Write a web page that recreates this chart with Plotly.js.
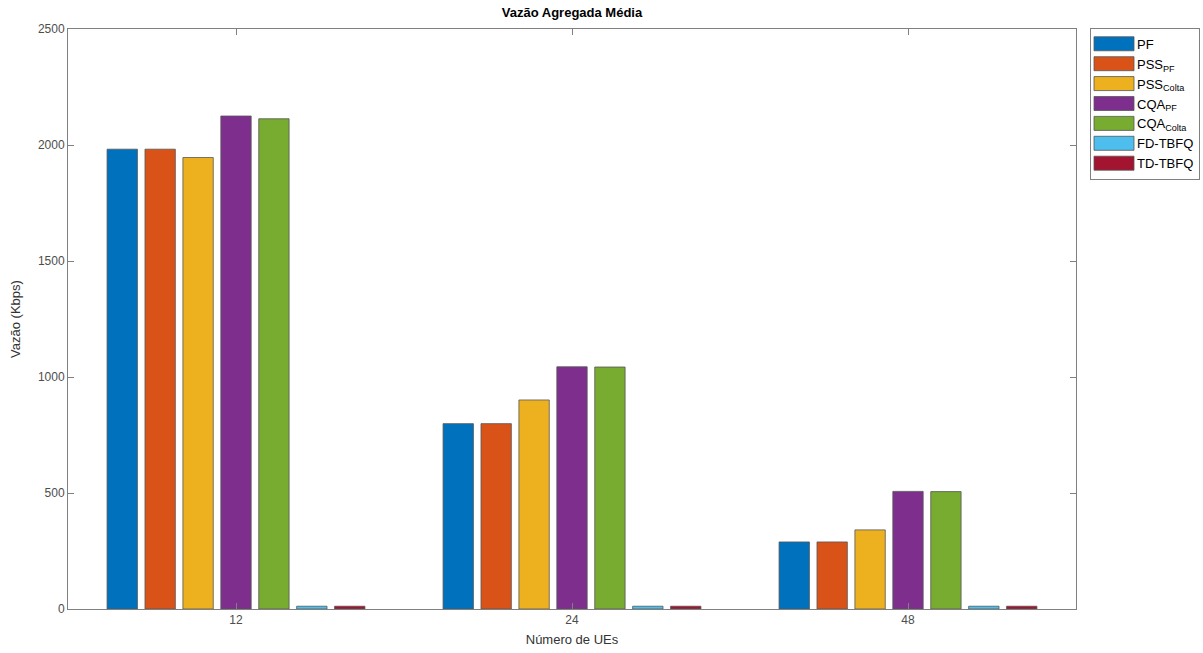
<!DOCTYPE html>
<html>
<head>
<meta charset="utf-8">
<script src="https://cdn.plot.ly/plotly-3.0.1.min.js"></script>
<style>html,body{margin:0;padding:0;background:#fff;}#chart{width:1203px;height:653px;}</style>
</head>
<body>
<div id="chart"></div>
<script>
const categories = ["12", "24", "48"];
const seriesNames = ["PF", "PSS<sub>PF</sub>", "PSS<sub>Colta</sub>", "CQA<sub>PF</sub>", "CQA<sub>Colta</sub>", "FD-TBFQ", "TD-TBFQ"];
const PF = [1982, 799, 289];
const PSS_PF = [1982, 799, 289];
const PSS_Colta = [1946, 901, 341];
const CQA_PF = [2125, 1044, 507];
const CQA_Colta = [2113, 1043, 506];
const FD_TBFQ = [12, 12, 12];
const TD_TBFQ = [12, 12, 12];
const seriesValues = [PF, PSS_PF, PSS_Colta, CQA_PF, CQA_Colta, FD_TBFQ, TD_TBFQ];
const colors = ["#0072BD", "#D95319", "#EDB120", "#7E2F8E", "#77AC30", "#4DBEEE", "#A2142F"];

const traces = seriesNames.map((n, i) => ({
  type: "bar",
  name: n,
  x: categories,
  y: seriesValues[i],
  marker: {color: colors[i], line: {color: "#555555", width: 0.8}},
  hoverinfo: "x+y+name"
}));

const font = "Liberation Sans, Arial, Helvetica, sans-serif";
const layout = {
  width: 1203, height: 653,
  margin: {l: 68, r: 127, t: 29, b: 44, pad: 0, autoexpand: false},
  paper_bgcolor: "#ffffff", plot_bgcolor: "#ffffff",
  barmode: "group",
  bargap: 0.21,
  bargroupgap: 0.2,
  font: {family: font, color: "#262626"},
  title: {text: "<b>Vazão Agregada Média</b>", font: {family: font, size: 13, color: "#000"}, x: 0.5, xref: "paper", xanchor: "center", y: 0.988, yref: "container", yanchor: "top"},
  xaxis: {
    type: "category",
    range: [-0.5, 2.5],
    showline: true, linecolor: "#808080", linewidth: 1, mirror: "ticks",
    ticks: "inside", ticklen: 6, tickcolor: "#808080",
    showgrid: false, zeroline: false,
    tickfont: {family: font, size: 12, color: "#4d4d4d"},
    title: {text: "Número de UEs", font: {family: font, size: 13, color: "#333"}, standoff: 8}
  },
  yaxis: {
    range: [0, 2500],
    tickvals: [0, 500, 1000, 1500, 2000, 2500],
    showline: true, linecolor: "#808080", linewidth: 1, mirror: "ticks",
    ticks: "inside", ticklen: 6, tickcolor: "#808080",
    showgrid: false, zeroline: false,
    tickfont: {family: font, size: 12, color: "#4d4d4d"},
    title: {text: "Vazão (Kbps)", font: {family: font, size: 13, color: "#333"}, standoff: 14}
  },
  legend: {
    x: 1.0139, xanchor: "left", y: 1.002, yanchor: "top",
    bordercolor: "#808080", borderwidth: 1, bgcolor: "#fff",
    font: {family: font, size: 13, color: "#000"},
    itemwidth: 36, tracegroupgap: 0,
    traceorder: "normal"
  },
  showlegend: true
};

function widenLegendSymbols() {
  document.querySelectorAll("#chart .legend .legendpoints path").forEach(p => {
    p.setAttribute("d", "M-20,7H20V-7H-20Z");
  });
}

Plotly.newPlot("chart", traces, layout, {displayModeBar: false, staticPlot: true}).then(widenLegendSymbols);
</script>
</body>
</html>
